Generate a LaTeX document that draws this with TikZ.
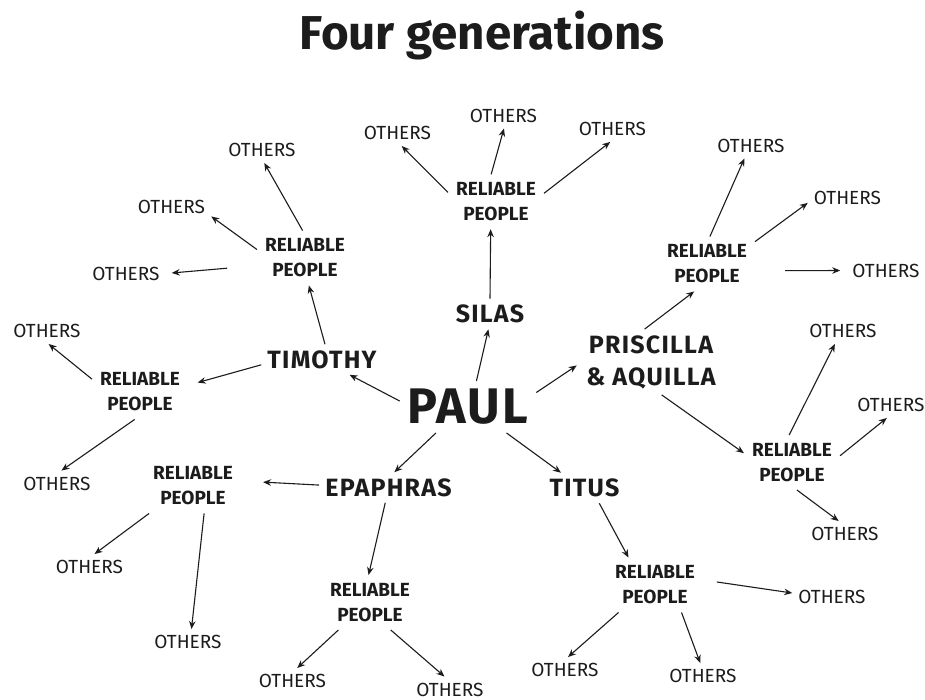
\documentclass[tikz,border=0pt]{standalone}
\usepackage{fontspec}
\setmainfont{Fira Sans}
\newfontfamily\namefont[LetterSpace=5]{Fira Sans}
\newfontfamily\paulfont[LetterSpace=4]{Fira Sans}
\usetikzlibrary{arrows.meta}
\definecolor{ink}{HTML}{1C1C1C}
\tikzset{
  others/.style={font=\fontsize{19}{19}\selectfont, text=ink, inner sep=6pt},
  rp/.style={font=\bfseries\fontsize{19}{25}\selectfont, align=center, text=ink, inner sep=8pt},
  person/.style={font=\namefont\bfseries\fontsize{25}{32}\selectfont, align=center, text=ink, inner sep=6pt},
  arr/.style={-{Stealth[length=8pt,width=6.5pt]}, line width=1.1pt, draw=ink},
}
\begin{document}
\begin{tikzpicture}[x=1pt,y=-1pt]
\useasboundingbox[fill=white] (0,0) rectangle (925,700);
\node[font=\bfseries\fontsize{47.5}{48}\selectfont, text=ink] (title) at (482,36) {Four generations};

% generation 1 and 2
\node[person, font=\paulfont\bfseries\fontsize{50}{50}\selectfont, inner sep=8pt] (paul) at (468,407) {PAUL};
\node[person] (silas) at (490,314) {SILAS};
\node[person] (tim) at (322,359.5) {TIMOTHY};
\node[person] (pris) at (651,362) {PRISCILLA\\\& AQUILLA};
\node[person] (epa) at (388.5,487.5) {EPAPHRAS};
\node[person] (titus) at (584.5,488) {TITUS};

% generation 3
\node[rp] (rpS) at (496,201.75) {RELIABLE\\PEOPLE};
\node[rp] (rpT) at (305,258) {RELIABLE\\PEOPLE};
\node[rp] (rpL) at (140,392) {RELIABLE\\PEOPLE};
\node[rp] (rpP1) at (707,264) {RELIABLE\\PEOPLE};
\node[rp] (rpP2) at (792,462.5) {RELIABLE\\PEOPLE};
\node[rp] (rpE1) at (193,486) {RELIABLE\\PEOPLE};
\node[rp] (rpE2) at (370,602.5) {RELIABLE\\PEOPLE};
\node[rp] (rpTi) at (655,585) {RELIABLE\\PEOPLE};

% generation 4
\node[others] (oS1) at (503.5,115.5) {OTHERS};
\node[others] (oS2) at (397.5,133) {OTHERS};
\node[others] (oS3) at (612.5,129) {OTHERS};
\node[others] (oT1) at (262,150) {OTHERS};
\node[others] (oT2) at (171.5,206.5) {OTHERS};
\node[others] (oT3) at (126,273.5) {OTHERS};
\node[others] (oL1) at (47,331) {OTHERS};
\node[others] (oL2) at (57,483.5) {OTHERS};
\node[others] (oE1a) at (89.5,567) {OTHERS};
\node[others] (oE1b) at (188,642) {OTHERS};
\node[others] (oE2a) at (292.5,681) {OTHERS};
\node[others] (oE2b) at (450,689.5) {OTHERS};
\node[others] (oTia) at (565,670) {OTHERS};
\node[others] (oTib) at (703,676) {OTHERS};
\node[others] (oTic) at (832,596.5) {OTHERS};
\node[others] (oP2a) at (843,331) {OTHERS};
\node[others] (oP2b) at (891,405) {OTHERS};
\node[others] (oP2c) at (845,534) {OTHERS};
\node[others] (oP1a) at (751,145.5) {OTHERS};
\node[others] (oP1b) at (847.5,198) {OTHERS};
\node[others] (oP1c) at (886,270.5) {OTHERS};

% connectors from Paul
\draw[arr] (paul.72.6) -- (silas.-96);
\draw[arr, shorten >=4pt] (paul.12.4) -- (pris.181);
\draw[arr] (paul.175.9) -- (tim.-29);
\draw[arr] (paul.-141.8) -- (epa.69);
\draw[arr] (paul.-34) -- (titus.147.1);
% to reliable people
\draw[arr] (silas.90) -- (rpS.-101.3);
\draw[arr] (tim.79.7) -- (rpT.-82.9);
\draw[arr, shorten >=10pt] (tim.-175.2) -- (rpL.8.8);
\draw[arr] (pris.101.7) -- (rpP1.-115.8);
\draw[arr] (pris.-72.6) -- (rpP2.169);
\draw[arr, shorten >=22pt] (epa.178) -- (rpE1.6.5);
\draw[arr] (epa.-102.7) -- (rpE2.93.9);
\draw[arr] (titus.-46.3) -- (rpTi.134);
% to others
\draw[arr] (rpS.100.6) -- (oS1.-88);
\draw[arr] (rpS.169.8) -- (oS2.-72);
\draw[arr] (rpS.10.2) -- (oS3.-100.9);
\draw[arr] (rpT.95.9) -- (oT1.-80);
\draw[arr] (rpT.170.2) -- (oT2.-14.2);
\draw[arr, shorten <=30pt, shorten >=6pt] (rpT.-171.3) -- (oT3.0);
\draw[arr] (rpL.165.3) -- (oL1.-83.7);
\draw[arr] (rpL.-101.7) -- (oL2.71.1);
\draw[arr] (rpE1.-148.5) -- (oE1a.69.9);
\draw[arr] (rpE1.-68.8) -- (oE1b.75);
\draw[arr] (rpE2.-139.5) -- (oE2a.70.6);
\draw[arr] (rpE2.-53) -- (oE2b.113);
\draw[arr] (rpTi.-143.1) -- (oTia.77.9);
\draw[arr] (rpTi.-46) -- (oTib.102);
\draw[arr, shorten <=14pt] (rpTi.6.4) -- (oTic.175.3);
\draw[arr] (rpP2.96) -- (oP2a.-122);
\draw[arr] (rpP2.8.2) -- (oP2b.-108.4);
\draw[arr] (rpP2.-80) -- (oP2c.116.6);
\draw[arr] (rpP1.84) -- (oP1a.-117.3);
\draw[arr] (rpP1.25.6) -- (oP1b.-173.6);
\draw[arr, shorten <=30pt, shorten >=6pt] (rpP1.-8) -- (oP1c.180);
\end{tikzpicture}
\end{document}
